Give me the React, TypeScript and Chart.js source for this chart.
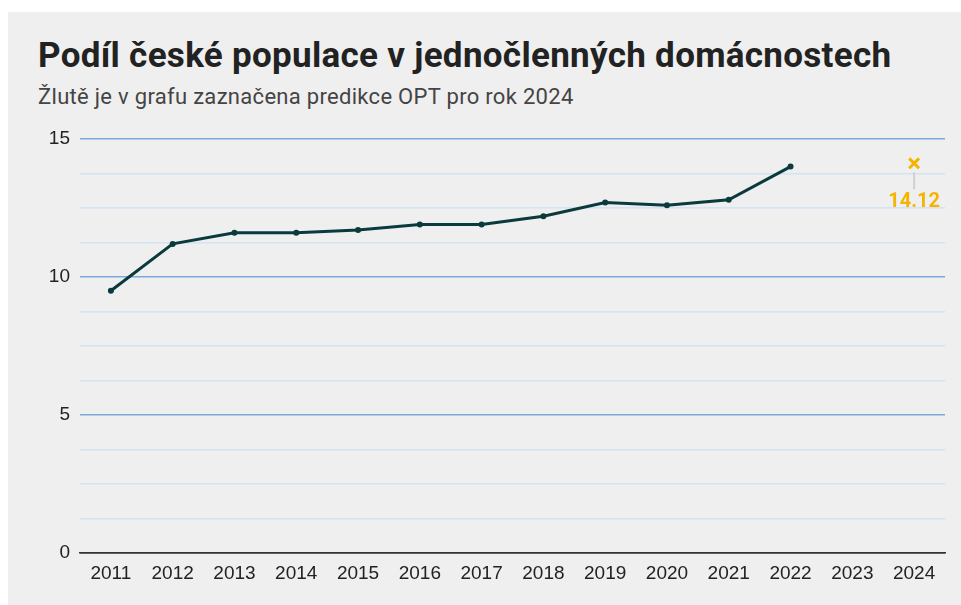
import React, { useEffect, useRef } from "react";
import { Chart, registerables } from "chart.js";

Chart.register(...registerables);

const years = ["2011","2012","2013","2014","2015","2016","2017","2018","2019","2020","2021","2022","2023","2024"];
const shareValues = [9.5, 11.2, 11.6, 11.6, 11.7, 11.9, 11.9, 12.2, 12.7, 12.6, 12.8, 14.0, null, null];
const predictionValues = [null, null, null, null, null, null, null, null, null, null, null, null, null, 14.12];
const predictionLabel = "14.12";
const titleText = "Podíl české populace v jednočlenných domácnostech";
const subtitleText = "Žlutě je v grafu zaznačena predikce OPT pro rok 2024";

const YELLOW = "#f6b400";
const LINE = "#0a3a3c";

const predictionPlugin = {
  id: "predictionLabel",
  afterDatasetsDraw(chart: any) {
    const meta = chart.getDatasetMeta(1);
    const idx = predictionValues.findIndex((v) => v !== null);
    const pt = meta.data[idx];
    if (!pt) return;
    const ctx = chart.ctx;
    ctx.save();
    ctx.strokeStyle = "#d0d0d0";
    ctx.lineWidth = 2;
    ctx.beginPath();
    ctx.moveTo(pt.x, pt.y + 9);
    ctx.lineTo(pt.x, pt.y + 26);
    ctx.stroke();
    ctx.fillStyle = YELLOW;
    ctx.font = "bold 20px Roboto, 'Liberation Sans', sans-serif";
    ctx.textAlign = "center";
    ctx.textBaseline = "middle";
    ctx.fillText(predictionLabel, pt.x, pt.y + 39);
    ctx.restore();
  },
};

export default function App() {
  const ref = useRef<HTMLCanvasElement>(null);
  useEffect(() => {
    if (!ref.current) return;
    const chart = new Chart(ref.current, {
      type: "line",
      data: {
        labels: years,
        datasets: [
          {
            data: shareValues,
            borderColor: LINE,
            backgroundColor: LINE,
            borderWidth: 3,
            pointRadius: 3,
            pointBackgroundColor: LINE,
            pointBorderWidth: 0,
            tension: 0,
            spanGaps: false,
          },
          {
            data: predictionValues,
            borderColor: YELLOW,
            backgroundColor: YELLOW,
            showLine: false,
            pointStyle: "crossRot",
            pointRadius: 7,
            pointBorderWidth: 3,
          },
        ],
      },
      options: {
        responsive: false,
        animation: false,
        layout: { padding: { top: 127, right: 16, left: 0, bottom: 0 } },
        plugins: {
          legend: { display: false },
          tooltip: { enabled: false },
          title: { display: false },
        },
        scales: {
          x: {
            offset: true,
            grid: { display: false, drawTicks: false },
            border: { display: true, color: "#333333", width: 1.5 },
            ticks: {
              color: "#222222",
              padding: 9,
              font: { family: "'Liberation Sans', Arial, sans-serif", size: 19 },
              maxRotation: 0,
              autoSkip: false,
            },
            afterFit(scale: any) {
              scale.height = 52;
            },
          },
          y: {
            min: 0,
            max: 15,
            border: { display: false },
            grid: {
              drawTicks: false,
              lineWidth: 1.5,
              color: (c: any) => {
                const v = c.tick ? c.tick.value : 0;
                if (v === 0) return "#333333";
                if (Math.abs(v % 5) < 1e-6) return "#7aa9dc";
                return "#d2e3f3";
              },
            },
            ticks: {
              stepSize: 1.25,
              padding: 10,
              color: "#222222",
              font: { family: "'Liberation Sans', Arial, sans-serif", size: 19 },
              callback: (v: any) => (Math.abs(Number(v) % 5) < 1e-6 ? String(v) : ""),
            },
            afterFit(scale: any) {
              scale.width = 72;
            },
          },
        },
      },
      plugins: [predictionPlugin],
    });
    return () => chart.destroy();
  }, []);

  return (
    <div
      style={{
        position: "fixed",
        left: 8,
        top: 12,
        right: 0,
        bottom: 0,
        background: "#efefef",
        overflow: "hidden",
      }}
    >
      <div
        style={{
          position: "absolute",
          left: 30,
          top: 24,
          fontFamily: "Roboto, sans-serif",
          fontWeight: 700,
          fontSize: 35,
          letterSpacing: 0.3,
          lineHeight: "40px",
          color: "#222222",
          whiteSpace: "nowrap",
        }}
      >
        {titleText}
      </div>
      <div
        style={{
          position: "absolute",
          left: 30,
          top: 72,
          fontFamily: "Roboto, sans-serif",
          fontSize: 22,
          letterSpacing: 0.3,
          lineHeight: "26px",
          color: "#444444",
          whiteSpace: "nowrap",
        }}
      >
        {subtitleText}
      </div>
      <canvas ref={ref} width={953} height={593} style={{ position: "absolute", left: 0, top: 0 }} />
    </div>
  );
}
